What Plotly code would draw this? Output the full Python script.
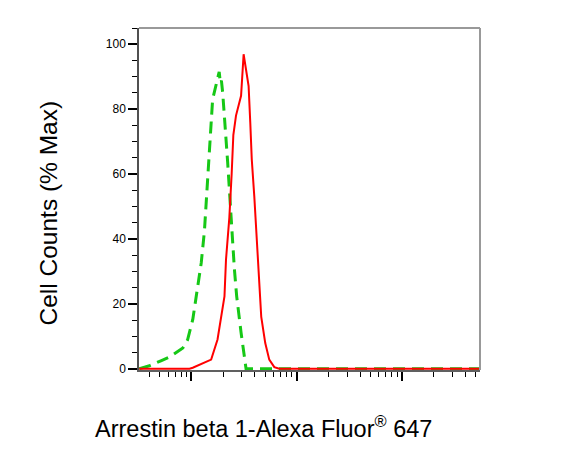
import plotly.graph_objects as go

# Fluorescence intensity (log axis) and % of max
control_x = [32, 40, 52, 62, 83, 92, 103, 115, 124, 133, 140, 146, 159, 183.6, 188.4,
             192.7, 198.2, 221, 229, 241, 256, 269, 296, 318, 330, 1000, 10000, 55000]
control_y = [0, 0.9, 2.5, 3.6, 6.4, 8.9, 15.1, 25, 32.6, 42.5, 55, 64, 83, 91.5, 88,
             88.8, 85, 63.5, 54.3, 44, 30.6, 22.3, 11.1, 2.8, 0, 0, 0, 0]

sample_x = [32, 96, 103, 154, 177, 206, 213, 229, 241, 250, 265, 285, 296, 313, 330,
            342, 349, 362, 374, 395, 425, 448, 460, 502, 548, 612, 682, 10000, 55000]
sample_y = [0, 0, 0.3, 2.8, 9.0, 22.3, 33.6, 46.5, 60, 72, 78, 82.1, 84.1, 96.9, 92.3,
            90.2, 87.1, 75.8, 64.5, 53.2, 34.6, 22.3, 16, 7.9, 2.8, 0.5, 0, 0, 0]

major_x_ticks = [100, 1000, 10000]
minor_x_ticks = [k * 10 ** d for d in range(1, 5) for k in range(2, 10)]
y_ticks = [0, 20, 40, 60, 80, 100]
y_tick_labels = ["0", "20", "40", "60", "80", "100"]

x_title = "Arrestin beta 1-Alexa Fluor<sup>®</sup> 647"
y_title = "Cell Counts (% Max)"

FONT = "Liberation Sans, Arial, sans-serif"

fig = go.Figure()
fig.add_trace(go.Scatter(
    x=control_x, y=control_y, mode="lines",
    line=dict(color="#16C816", width=3, dash="12px,7px"),
    showlegend=False, hoverinfo="skip"))
fig.add_trace(go.Scatter(
    x=sample_x, y=sample_y, mode="lines",
    line=dict(color="#FF0000", width=2),
    showlegend=False, hoverinfo="skip"))

fig.update_layout(
    width=586, height=458,
    margin=dict(l=131, r=114, t=20, b=96, pad=0),
    paper_bgcolor="white", plot_bgcolor="white",
    font=dict(family=FONT, color="black"),
    xaxis=dict(
        type="log", range=[1.503, 4.738],
        tickmode="array", tickvals=major_x_ticks, showticklabels=False,
        ticks="outside", ticklen=9, tickwidth=2, tickcolor="black",
        minor=dict(tickmode="array", tickvals=minor_x_ticks, ticks="outside",
                   ticklen=5, tickwidth=1, tickcolor="black"),
        showline=True, linecolor="#606060", linewidth=1.5,
        showgrid=False, zeroline=False),
    yaxis=dict(
        range=[-0.4, 105],
        tickmode="array", tickvals=y_ticks, ticktext=y_tick_labels,
        ticks="outside", ticklen=9, tickwidth=2, tickcolor="black",
        tickfont=dict(size=12, family=FONT, color="black"),
        minor=dict(dtick=5, ticks="outside", ticklen=5, tickwidth=1, tickcolor="black"),
        showline=True, linecolor="#505050", linewidth=1.5,
        showgrid=False, zeroline=False),
    shapes=[
        dict(type="line", xref="paper", yref="paper", x0=0, x1=1, y0=1, y1=1,
             line=dict(color="#999999", width=2)),
        dict(type="line", xref="paper", yref="paper", x0=1, x1=1, y0=0, y1=1,
             line=dict(color="#999999", width=2)),
    ],
    annotations=[
        dict(text=y_title, xref="paper", yref="paper", x=-0.264, y=0.4605,
             xanchor="center", yanchor="middle", textangle=-90, showarrow=False,
             font=dict(size=24.5, family=FONT, color="black")),
        dict(text=x_title, xref="paper", yref="paper", x=0.365, y=-0.1667,
             xanchor="center", yanchor="middle", showarrow=False,
             font=dict(size=23.5, family=FONT, color="black")),
    ],
)

fig.write_html("out.html")
